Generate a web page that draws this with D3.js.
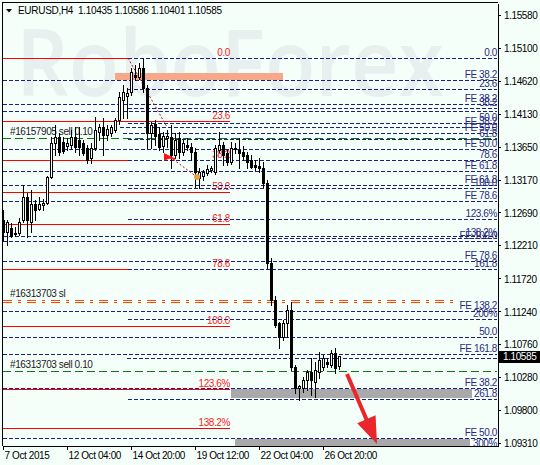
<!DOCTYPE html>
<html><head><meta charset="utf-8">
<script src="https://cdn.jsdelivr.net/npm/d3@7"></script>
<style>html,body{margin:0;padding:0;background:#f5fffa}svg{display:block}</style>
</head><body>
<svg id="c" width="540" height="465"></svg>
<script>
// ---------- DATA ----------
const opens  = [1.12577,1.12401,1.12460,1.12372,1.12387,1.12577,1.12914,1.12548,1.12811,1.12738,1.12797,1.12826,1.13207,1.13705,1.13793,1.13720,1.13661,1.13676,1.13793,1.13749,1.13705,1.13632,1.13485,1.13632,1.13866,1.13939,1.13822,1.13852,1.13896,1.14042,1.14335,1.14394,1.14452,1.14701,1.14672,1.14804,1.14511,1.13852,1.13983,1.13837,1.13661,1.13778,1.13793,1.13529,1.13778,1.13573,1.13676,1.13646,1.13573,1.13192,1.13222,1.13266,1.13310,1.13280,1.13603,1.13676,1.13559,1.13427,1.13617,1.13603,1.13573,1.13529,1.13456,1.13383,1.13368,1.13339,1.13119,1.11947,1.11405,1.11068,1.10863,1.11068,1.11259,1.10423,1.10116,1.10116,1.10233,1.10350,1.10204,1.10350,1.10423,1.10497,1.10453,1.10629,1.10435];
const highs  = [1.12724,1.12577,1.12533,1.12474,1.12606,1.13090,1.12973,1.13017,1.12870,1.12914,1.12885,1.13222,1.13793,1.13969,1.13852,1.13793,1.13778,1.13896,1.13939,1.13939,1.13749,1.13676,1.13705,1.14086,1.13983,1.14071,1.13969,1.13969,1.14071,1.14452,1.14555,1.14511,1.14804,1.14848,1.14877,1.14950,1.14555,1.14013,1.14042,1.13939,1.13866,1.13896,1.13969,1.13852,1.13866,1.13749,1.13778,1.13705,1.13632,1.13339,1.13310,1.13383,1.13368,1.13676,1.13866,1.13720,1.13603,1.13720,1.13705,1.13778,1.13661,1.13573,1.13529,1.13456,1.13485,1.13427,1.13163,1.12020,1.11464,1.11083,1.11112,1.11332,1.11376,1.10453,1.10160,1.10277,1.10380,1.10555,1.10497,1.10643,1.10599,1.10555,1.10673,1.10702,1.10586];
const lows   = [1.12284,1.12211,1.12328,1.12343,1.12357,1.12548,1.12328,1.12401,1.12577,1.12724,1.12724,1.12811,1.13192,1.13529,1.13529,1.13559,1.13603,1.13632,1.13573,1.13529,1.13529,1.13412,1.13412,1.13603,1.13749,1.13529,1.13749,1.13808,1.13866,1.13983,1.14071,1.14071,1.14408,1.14628,1.14643,1.14452,1.13632,1.13632,1.13676,1.13603,1.13573,1.13646,1.13339,1.13485,1.13485,1.13529,1.13603,1.13456,1.13060,1.13046,1.13163,1.13236,1.13280,1.13251,1.13573,1.13383,1.13383,1.13397,1.13559,1.13339,1.13456,1.13339,1.13339,1.13310,1.13280,1.13060,1.11874,1.11332,1.11009,1.10702,1.10819,1.10863,1.10380,1.10043,1.09940,1.10057,1.10087,1.10013,1.09984,1.10262,1.10380,1.10423,1.10423,1.10336,1.10401];
const closes = [1.12401,1.12548,1.12343,1.12387,1.12548,1.12914,1.12577,1.12811,1.12724,1.12811,1.12826,1.13207,1.13705,1.13793,1.13573,1.13588,1.13705,1.13793,1.13646,1.13646,1.13559,1.13456,1.13632,1.13896,1.13939,1.13822,1.13910,1.13939,1.14042,1.14379,1.14452,1.14438,1.14745,1.14672,1.14804,1.14511,1.13852,1.13969,1.13808,1.13646,1.13808,1.13808,1.13529,1.13749,1.13573,1.13705,1.13646,1.13573,1.13280,1.13280,1.13280,1.13324,1.13339,1.13632,1.13676,1.13529,1.13427,1.13632,1.13625,1.13559,1.13515,1.13427,1.13353,1.13353,1.13339,1.13119,1.11947,1.11405,1.11039,1.10863,1.11068,1.11259,1.10423,1.10116,1.10145,1.10233,1.10350,1.10233,1.10380,1.10526,1.10555,1.10467,1.10629,1.10409,1.10585];

const xTickIdx    = [0, 16, 32, 48, 64, 80];
const xTickLabels = ["7 Oct 2015","12 Oct 04:00","14 Oct 20:00","19 Oct 12:00","22 Oct 04:00","26 Oct 20:00"];
const yTicks = [1.15580,1.15100,1.14620,1.14130,1.13650,1.13170,1.12690,1.12210,1.11720,1.11240,1.10760,1.10280,1.09800,1.09310];

const titleText = "EURUSD,H4  1.10435 1.10586 1.10401 1.10585";
const lastPrice = 1.10585;

// red Fibonacci retracement (from peak to 1.1102)
const redFibLevels = [0, 23.6, 38.2, 50, 61.8, 78.6, 100, 123.6, 138.2];
const redFibLabels = ["0.0","23.6","38.2","50.0","61.8","78.6","100.0","123.6%","138.2%"];
const redFibHigh = 1.14950, redFibLow = 1.11024, redFibEndIdx = 56.75;

// blue Fibonacci retracement / extension (peak to 1.1304 low)
const blueFibLevels = [0, 23.6, 38.2, 50, 61.8, 78.6, 100, 123.6, 138.2, 161.8, 200, 261.8, 300];
const blueFibLabels = ["0.0","23.6","38.2","50.0","61.8","78.6","100.0","123.6%","138.2%","161.8","200%","261.8","300%"];
const blueFibHigh = 1.14950, blueFibLow = 1.13041, blueFibStartIdx = 31.25;

// Fibonacci expansion lines
const fePrices = [1.14628,1.14276,1.14174,1.13934,1.13852,1.13617,1.13301,1.13090,1.12850,1.12343,1.12274,1.11976,1.11247,1.10863,1.10614,1.10555,1.10116,1.09383];
const feLabels = ["FE 38.2","FE 38.2","","FE 38.2","FE 50.0","FE 50.0","FE 61.8","FE 61.8","FE 78.6","","FE 100.0","FE 78.6","FE 138.2","50.0","FE 161.8","","FE 38.2","FE 50.0"];
const feStartIdx = [0,0,0,29.25,30,0,0,0,0,0,0,0,0,0,0,31,0,0];

// orders
const orderPrices = [1.13783, 1.10365];
const orderLabels = ["#16157905 sell 0.10", "#16313703 sell 0.10"];
const slPrice = 1.11383, slLabel = "#16313703 sl", slEndIdx = 113.25;

// closed trade lines (dotted) and markers
const tradeFromIdx = [31.25, 41.75], tradeFromPrice = [1.14950, 1.13500];
const tradeToIdx   = [41, 48.5],     tradeToPrice   = [1.13939, 1.13207];
const sellMarker = [41.5, 1.13500];
const closeMarker = [48.5, 1.13207];

// zones
const zoneIdx0   = [28, 57, 58];
const zoneIdx1   = [70, 117.25, 116.75];
const zoneTop    = [1.14731, 1.10101, 1.09368];
const zoneBottom = [1.14621, 1.09969, 1.09266];
const zoneColors = ["#f6a888", "#a9a9a9", "#a9a9a9"];

// forecast arrow
const arrowFrom = [86, 1.10321];
const arrowTo   = [93.5, 1.09295];

// ---------- LAYOUT ----------
const W = 540, H = 465, L = 3, R = 498, T = 3, B = 446;
const BG = "#f5fffa", NAVY = "#1e1e7c", RED = "#ff0000";
const FONT = '"Liberation Sans", Arial, sans-serif';

const x = d3.scaleLinear().domain([0, 123.75]).range([L, R]);
const y = d3.scaleLinear().domain([1.09266, 1.15756]).range([B, T]);
const Y = p => Math.round(y(p)) + 0.5;

const svg = d3.select("#c");
svg.append("rect").attr("width", W).attr("height", H).attr("fill", BG);
svg.append("defs").append("clipPath").attr("id", "plot")
  .append("rect").attr("x", L).attr("y", T).attr("width", R - L).attr("height", B - T);

const g = svg.append("g").attr("clip-path", "url(#plot)");

// watermark
g.append("text").attr("x", 16).attr("y", 96)
  .attr("font-family", '"Open Sans", Lato, sans-serif').attr("font-size", 92).attr("font-weight", 600)
  .attr("textLength", 428).attr("lengthAdjust", "spacingAndGlyphs")
  .attr("fill", "#e7efef").text("RoboForex");

// zones
zoneIdx0.forEach((i0, k) => {
  const y0 = Math.round(y(zoneTop[k])), y1 = Math.round(y(zoneBottom[k]));
  g.append("rect").attr("x", Math.round(x(i0))).attr("y", y0)
    .attr("width", Math.round(x(zoneIdx1[k])) - Math.round(x(i0))).attr("height", y1 - y0)
    .attr("fill", zoneColors[k]);
});

function hline(px1, px2, yy, color, dash, w) {
  return g.append("line").attr("x1", px1).attr("x2", px2).attr("y1", yy).attr("y2", yy)
    .attr("stroke", color).attr("stroke-width", w || 1)
    .attr("stroke-dasharray", dash || null).attr("shape-rendering", "crispEdges");
}
function label(px, yy, txt, color, anchor) {
  return g.append("text").attr("x", px).attr("y", yy).attr("fill", color)
    .attr("text-anchor", anchor || "end").attr("font-family", FONT)
    .attr("font-size", 10).attr("letter-spacing", -0.4).text(txt);
}

// red fib
redFibLevels.forEach((lv, k) => {
  const p = redFibHigh - (redFibHigh - redFibLow) * lv / 100;
  const yy = Y(p);
  hline(L, x(redFibEndIdx), yy, RED);
  label(x(redFibEndIdx), yy - 2.5, redFibLabels[k], "#ff1a1a");
});

// navy dashed lines (opaque gaps like GDI)
function navyLine(px1, yy) {
  hline(px1, R - 1, yy, BG);
  hline(px1, R - 1, yy, NAVY, "4,2");
}
fePrices.forEach((p, k) => navyLine(x(feStartIdx[k]), Y(p)));
blueFibLevels.forEach((lv) => {
  const p = blueFibHigh - (blueFibHigh - blueFibLow) * lv / 100;
  navyLine(x(blueFibStartIdx), Y(p));
});
fePrices.forEach((p, k) => {
  if (feLabels[k]) label(R - 1, Y(p) - 3, feLabels[k], "#2a2a80");
});
blueFibLevels.forEach((lv, k) => {
  const p = blueFibHigh - (blueFibHigh - blueFibLow) * lv / 100;
  label(R - 1, Y(p) - 3, blueFibLabels[k], "#2a2a80");
});

// order lines
orderPrices.forEach((p, k) => {
  const yy = Y(p);
  hline(L, R - 1, yy, "#0a7a0a", "8,4");
  label(10, yy - 3.5, orderLabels[k], "#1a1a1a", "start");
});
// stop loss line (double, dash-dot)
{
  const yy = Y(slPrice);
  hline(L, x(slEndIdx), yy - 1, "#ff4500", "9,6,3,6");
  hline(L, x(slEndIdx), yy + 1, "#ff4500", "9,6,3,6");
  label(10, yy - 4.5, slLabel, "#1a1a1a", "start");
}

// dotted trade lines
tradeFromIdx.forEach((i0, k) => {
  g.append("line").attr("x1", x(i0)).attr("y1", y(tradeFromPrice[k]))
    .attr("x2", x(tradeToIdx[k])).attr("y2", y(tradeToPrice[k]))
    .attr("stroke", "#b0141a").attr("stroke-width", 1).attr("stroke-dasharray", "2,2");
});

// candles
const cg = g.append("g").attr("shape-rendering", "crispEdges");
opens.forEach((o, i) => {
  const c = Math.round(x(i));
  const h = highs[i], l = lows[i], cl = closes[i];
  cg.append("line").attr("x1", c + 0.5).attr("x2", c + 0.5)
    .attr("y1", Math.round(y(h))).attr("y2", Math.round(y(l)) + 1).attr("stroke", "#000");
  const top = Math.round(y(Math.max(o, cl))), bot = Math.round(y(Math.min(o, cl)));
  if (cl > o) {
    cg.append("rect").attr("x", c - 0.5).attr("y", top + 0.5).attr("width", 2)
      .attr("height", Math.max(bot - top, 1)).attr("fill", "#fff").attr("stroke", "#000");
  } else {
    cg.append("rect").attr("x", c - 1).attr("y", top).attr("width", 3)
      .attr("height", Math.max(bot - top + 1, 1)).attr("fill", "#000");
  }
});

// markers
{
  const mx = x(sellMarker[0]), my = y(sellMarker[1]);
  g.append("path").attr("d", `M${mx-5},${my-4} L${mx+3},${my} L${mx-5},${my+4} Z`).attr("fill", "#ff1010");
  g.append("line").attr("x1", mx - 2).attr("x2", mx + 6).attr("y1", my).attr("y2", my + 2)
    .attr("stroke", "#ff1010").attr("stroke-width", 2);
  g.append("circle").attr("cx", x(closeMarker[0])).attr("cy", y(closeMarker[1])).attr("r", 3)
    .attr("fill", "#e8a23a");
}

// forecast arrow
{
  const x0 = x(arrowFrom[0]), y0 = y(arrowFrom[1]), x1 = x(arrowTo[0]), y1 = y(arrowTo[1]);
  const len = Math.hypot(x1 - x0, y1 - y0), ux = (x1 - x0) / len, uy = (y1 - y0) / len;
  const hl = 27, hw = 10;
  const bx = x1 - ux * hl, by = y1 - uy * hl;
  svg.append("line").attr("x1", x0).attr("y1", y0).attr("x2", bx + ux * 2).attr("y2", by + uy * 2)
    .attr("stroke", "#e8262b").attr("stroke-width", 4);
  svg.append("path")
    .attr("d", `M${x1},${y1} L${bx - uy * hw},${by + ux * hw} L${bx + uy * hw},${by - ux * hw} Z`)
    .attr("fill", "#e8262b");
}

// frame
svg.append("line").attr("x1", L - 0.5).attr("x2", L - 0.5).attr("y1", T - 1).attr("y2", B)
  .attr("stroke", "#000").attr("shape-rendering", "crispEdges");
svg.append("line").attr("x1", L - 1).attr("x2", R).attr("y1", T - 0.5).attr("y2", T - 0.5)
  .attr("stroke", "#000").attr("shape-rendering", "crispEdges");

// axes
const ya = svg.append("g").attr("transform", `translate(${R},0)`)
  .call(d3.axisRight(y).tickValues(yTicks).tickSize(3).tickSizeOuter(0).tickPadding(3)
    .tickFormat(d3.format(".5f")));
ya.selectAll("text").attr("font-family", FONT).attr("font-size", 10)
  .attr("letter-spacing", -0.4).attr("fill", "#000").attr("dy", "0.38em");
ya.selectAll("line,path").attr("stroke", "#000").attr("shape-rendering", "crispEdges");

const xa = svg.append("g").attr("transform", `translate(0,${B})`)
  .call(d3.axisBottom(x).tickValues(xTickIdx).tickSize(4).tickSizeOuter(0)
    .tickFormat((d, i) => xTickLabels[i]));
xa.selectAll("text").attr("font-family", FONT).attr("font-size", 10).attr("letter-spacing", -0.4)
  .attr("fill", "#000").attr("text-anchor", "start").attr("x", 1).attr("y", 13).attr("dy", 0);
xa.selectAll("line,path").attr("stroke", "#000").attr("shape-rendering", "crispEdges");

// current price box
{
  const yy = Math.round(y(lastPrice));
  svg.append("rect").attr("x", R + 1).attr("y", yy - 5).attr("width", W - R - 1).attr("height", 12)
    .attr("fill", "#000");
  svg.append("text").attr("x", R + 5).attr("y", yy + 4).attr("fill", "#fff")
    .attr("font-family", FONT).attr("font-size", 10).attr("letter-spacing", -0.4)
    .text(d3.format(".5f")(lastPrice));
}

// title
svg.append("path").attr("d", "M6,9 L12,9 L9,12.5 Z").attr("fill", "#000");
svg.append("text").attr("x", 18).attr("y", 14).attr("font-family", FONT).attr("font-size", 10)
  .attr("letter-spacing", -0.3).attr("fill", "#000").style("white-space", "pre").text(titleText);
</script>
</body></html>
